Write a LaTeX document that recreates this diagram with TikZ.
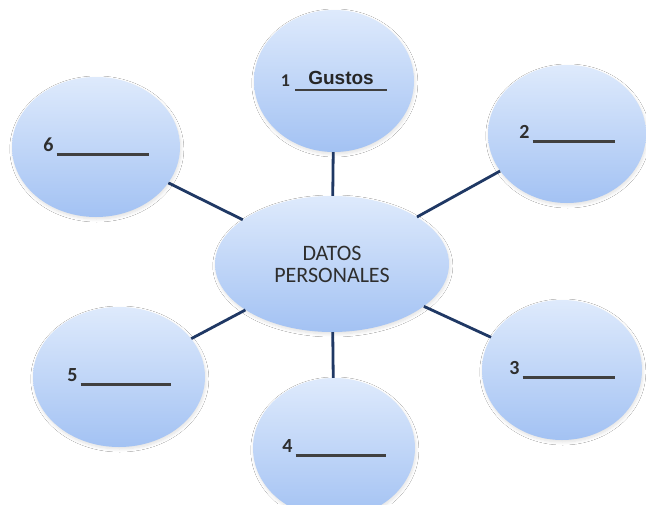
\documentclass[tikz,border=0pt]{standalone}
\usepackage{fontspec}
\setmainfont{Carlito}
\newfontfamily\arialfont{Liberation Sans}
\usetikzlibrary{shapes.geometric,shadows.blur}
\definecolor{bubtop}{HTML}{DEEAFC}
\definecolor{bubbot}{HTML}{A3C2F3}
\definecolor{linkc}{HTML}{1F3864}
\definecolor{txtc}{HTML}{2E2E2E}
\definecolor{rulec}{HTML}{404040}
\newcommand\myblank[1]{\hspace{3pt}{\color{rulec}\rule[-4.5pt]{#1pt}{2.6pt}}}
\begin{document}
\begin{tikzpicture}[x=1pt,y=-1pt,
  bubble/.style={ellipse, inner sep=0pt, top color=bubtop, bottom color=bubbot, draw=none,
    blur shadow={shadow xshift=0.8pt, shadow yshift=-2pt, shadow blur radius=3pt, shadow opacity=12, shadow blur steps=8},
    text=txtc, font=\bfseries\fontsize{20}{22}\selectfont},
  link/.style={draw=linkc, line width=2.8pt}]
\useasboundingbox[fill=white] (0,0) rectangle (646,504);

\node[bubble, minimum width=234pt, minimum height=136pt, align=center,
      font=\fontsize{22}{22}\selectfont] (c) at (332,264) {DATOS\\PERSONALES};

\node[bubble, minimum width=160pt, minimum height=142pt] (n1) at (334,81)
  {\raisebox{-2pt}{\bfseries\fontsize{18}{18}\selectfont 1}\hspace{5pt}\rlap{\color{rulec}\rule[-6.5pt]{92pt}{2.2pt}}\makebox[92pt]{\arialfont\bfseries\fontsize{19}{20}\selectfont\color{black!85} Gustos}};
\node[bubble, minimum width=158pt, minimum height=138pt] (n2) at (567,134) {2\myblank{82}};
\node[bubble, minimum width=160pt, minimum height=140pt] (n3) at (562,370) {3\myblank{92}};
\node[bubble, minimum width=162pt, minimum height=140pt] (n4) at (334,448) {4\myblank{90}};
\node[bubble, minimum width=172pt, minimum height=140pt] (n5) at (119,377) {5\myblank{90}};
\node[bubble, minimum width=168pt, minimum height=140pt] (n6) at (96,147) {6\myblank{92}};

\draw[link] (c) -- (n1);
\draw[link] (c) -- (n2);
\draw[link] (c) -- (n3);
\draw[link] (c) -- (n4);
\draw[link] (c) -- (n5);
\draw[link] (c) -- (n6);
\end{tikzpicture}
\end{document}
